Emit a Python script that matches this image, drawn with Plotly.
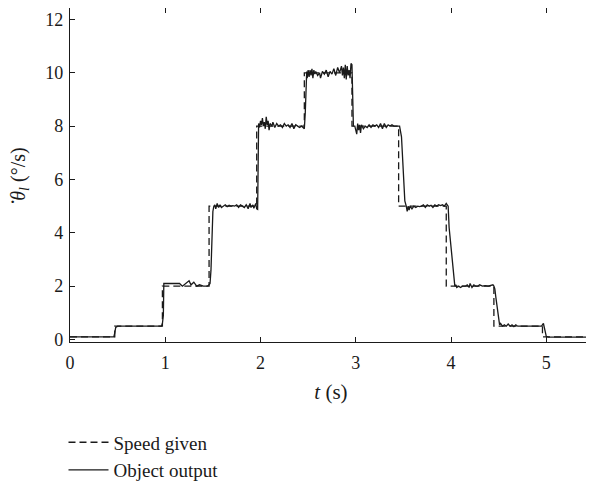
import plotly.graph_objects as go

# Speed given (step reference): switch times and levels
STEP_T = [0.0, 0.47, 0.97, 1.46, 1.96, 2.46, 2.96, 3.45, 3.95, 4.45, 4.96, 5.5]
STEP_V = [0.1, 0.5, 2.0, 5.0, 8.0, 10.0, 8.0, 5.0, 2.0, 0.5, 0.1, 0.1]

# Object output (measured)
OUT_T = [
    0.0, 0.46, 0.47, 0.48, 0.5,
    0.96, 0.97, 0.98, 0.985,
    1.15, 1.18, 1.22, 1.25, 1.27, 1.3, 1.33, 1.36, 1.4, 1.44, 1.46, 1.47, 1.48, 1.49, 1.5, 1.51,
    1.52, 1.53, 1.545, 1.56, 1.575, 1.59, 1.61, 1.63, 1.65, 1.67, 1.69, 1.71, 1.73, 1.75, 1.77,
    1.79, 1.81, 1.83, 1.85, 1.87, 1.89, 1.9, 1.92, 1.93, 1.95, 1.96, 1.97, 1.975,
    1.98, 1.99, 2.0, 2.01, 2.02, 2.03, 2.04, 2.05, 2.06, 2.07, 2.08, 2.09, 2.1, 2.12, 2.13, 2.15,
    2.17, 2.19, 2.21, 2.23, 2.25, 2.27, 2.29, 2.31, 2.33, 2.35, 2.37, 2.39, 2.41, 2.43, 2.45,
    2.46, 2.47, 2.48,
    2.485, 2.49, 2.5, 2.51, 2.52, 2.53, 2.54, 2.55, 2.56, 2.57, 2.58, 2.6, 2.62, 2.63, 2.65,
    2.67, 2.69, 2.71, 2.73, 2.75, 2.77, 2.79, 2.81, 2.83, 2.85, 2.86, 2.87, 2.88, 2.89, 2.9,
    2.91, 2.92, 2.93, 2.94, 2.95, 2.96, 2.965, 2.97, 2.975,
    2.99, 3.01, 3.02, 3.03, 3.04, 3.05, 3.06, 3.08, 3.1, 3.12, 3.14, 3.16, 3.18, 3.2, 3.22,
    3.24, 3.26, 3.28, 3.3, 3.32, 3.34, 3.36, 3.38, 3.4, 3.43, 3.46,
    3.48, 3.495, 3.505, 3.515, 3.53,
    3.54, 3.55, 3.56, 3.57, 3.59, 3.61, 3.63, 3.65, 3.67, 3.69, 3.71, 3.73, 3.75, 3.77, 3.79,
    3.81, 3.83, 3.85, 3.87, 3.89, 3.91, 3.93, 3.95, 3.96, 3.97,
    3.98, 3.99, 4.0, 4.01, 4.02, 4.03, 4.04,
    4.05, 4.06, 4.08, 4.1, 4.12, 4.15, 4.17, 4.19, 4.2, 4.22, 4.24, 4.26, 4.28, 4.3, 4.33,
    4.36, 4.39, 4.42, 4.44, 4.45,
    4.46, 4.47, 4.48, 4.49, 4.5, 4.51,
    4.52, 4.54, 4.56, 4.58, 4.6, 4.62, 4.64, 4.66, 4.68, 4.7, 4.75, 4.8, 4.85, 4.9, 4.95,
    4.97, 4.98, 4.99, 5.0, 5.02,
    5.2, 5.4, 5.46, 5.47, 5.48,
]
OUT_V = [
    0.1, 0.1, 0.25, 0.45, 0.5,
    0.5, 0.6, 0.9, 2.1,
    2.1, 2.0, 2.1, 2.2, 2.05, 2.15, 2.0, 2.05, 2.0, 2.0, 2.05, 2.1, 2.6, 4.0, 4.8, 5.0,
    5.05, 4.9, 5.1, 4.95, 5.05, 4.95, 5.0, 5.05, 4.98, 5.03, 5.0, 5.02, 5.0, 5.05, 4.95,
    5.05, 5.0, 4.95, 5.05, 4.9, 5.1, 4.95, 5.05, 4.92, 5.1, 4.9, 4.88, 8.0,
    8.1, 7.95, 8.2, 8.05, 8.3, 8.0, 8.15, 7.9, 8.35, 8.05, 8.2, 7.85, 8.1, 8.0, 8.15, 7.95,
    8.1, 8.0, 8.05, 7.95, 8.1, 8.0, 8.05, 7.95, 8.1, 7.9, 8.05, 8.0, 7.95, 8.0, 7.95,
    7.9, 8.5, 10.0,
    10.05, 9.8, 10.1, 9.85, 10.1, 9.9, 10.15, 9.8, 10.1, 9.95, 10.05, 9.9, 10.0, 9.8, 10.05,
    9.95, 10.1, 9.85, 10.05, 9.95, 10.15, 9.9, 10.2, 10.0, 10.25, 9.9, 10.2, 9.8, 10.3, 9.75,
    10.25, 9.9, 10.1, 9.8, 10.35, 10.3, 9.0, 8.4, 8.0,
    8.0, 7.7, 8.1, 7.85, 8.05, 7.75, 8.05, 7.9, 8.0, 7.95, 8.05, 7.95, 8.05, 8.0, 8.05,
    7.95, 8.1, 7.9, 8.1, 7.95, 8.05, 8.0, 8.05, 8.0, 8.0, 8.0,
    7.6, 6.7, 6.0, 5.2, 5.0,
    4.8, 5.0, 4.85, 5.0, 4.9, 5.0, 4.95, 5.0, 4.98, 5.0, 5.05, 4.95, 5.05, 5.0, 5.03,
    4.95, 5.05, 5.0, 5.05, 5.02, 5.05, 5.0, 5.1, 5.05, 5.0,
    4.2, 3.8, 3.4, 3.0, 2.5, 2.1, 2.0,
    2.05, 1.95, 2.0, 1.95, 2.0, 2.0, 2.05, 1.95, 2.1, 1.95, 2.05, 2.0, 2.0, 2.05, 2.0,
    2.02, 2.0, 2.02, 2.05, 2.0,
    1.9, 1.6, 1.3, 1.0, 0.7, 0.55,
    0.6, 0.5, 0.55, 0.5, 0.58, 0.5, 0.55, 0.48, 0.55, 0.5, 0.5, 0.5, 0.5, 0.5, 0.5,
    0.6, 0.4, 0.2, 0.12, 0.09,
    0.09, 0.09, 0.09, 0.3, 0.1,
]

X_TICKS = [0, 1, 2, 3, 4, 5]
Y_TICKS = [0, 2, 4, 6, 8, 10, 12]

FONT = "Liberation Serif"
INK = "#1a1a1a"

# figure sits inside the page's default 8px body margin
W, H = 586, 483
ML, MR, MT, MB = 62, 2, 0, 148.5
PW, PH = W - ML - MR, H - MT - MB
PLOT_BOTTOM = H - MB

fig = go.Figure()
fig.add_trace(go.Scatter(
    x=STEP_T, y=STEP_V, mode="lines", name="Speed given",
    line=dict(color=INK, width=1.3, dash="7px,4px", shape="hv"),
    legendgroup="a",
))
fig.add_trace(go.Scatter(
    x=OUT_T, y=OUT_V, mode="lines", name="Object output",
    line=dict(color=INK, width=1.3),
    legendgroup="b",
))

axis_common = dict(
    showline=True, linecolor=INK, linewidth=1.2, mirror="ticks",
    ticks="inside", ticklen=5, tickcolor=INK, tickwidth=1,
    showgrid=False, zeroline=False, automargin=False,
    tickfont=dict(family=FONT, size=18, color=INK),
)

fig.update_layout(
    width=W, height=H,
    margin=dict(l=ML, r=MR, t=MT, b=MB, pad=0, autoexpand=False),
    paper_bgcolor="white", plot_bgcolor="white",
    font=dict(family=FONT, color=INK),
    xaxis=dict(range=[0, 5.48], tickvals=X_TICKS, ticklabelstandoff=4,
               title=dict(text="<i>t</i> (s)", font=dict(family=FONT, size=21, color=INK), standoff=12),
               **axis_common),
    yaxis=dict(range=[-0.094, 12.43], tickvals=Y_TICKS, ticklabelstandoff=2, **axis_common),
    showlegend=True,
    legend=dict(x=(55.5 - ML) / PW, y=-(416 - PLOT_BOTTOM) / PH, xanchor="left", yanchor="top",
                orientation="v", font=dict(family=FONT, size=19, color=INK),
                bgcolor="rgba(0,0,0,0)", tracegroupgap=0, itemwidth=40),
)

# y-axis title (theta with dot above, subscript l)
fig.add_annotation(
    text="<i>θ</i><sub><i>l</i></sub> (°/s)",
    xref="paper", yref="paper", x=(12 - ML) / PW, y=(PLOT_BOTTOM - 167) / PH,
    xanchor="center", yanchor="middle", textangle=-90, showarrow=False,
    font=dict(family=FONT, size=20, color=INK),
)
fig.add_annotation(
    text="·",
    xref="paper", yref="paper", x=(4 - ML) / PW, y=(PLOT_BOTTOM - 194) / PH,
    xanchor="center", yanchor="middle", showarrow=False,
    font=dict(family=FONT, size=22, color=INK),
)

fig.write_html("out.html")
